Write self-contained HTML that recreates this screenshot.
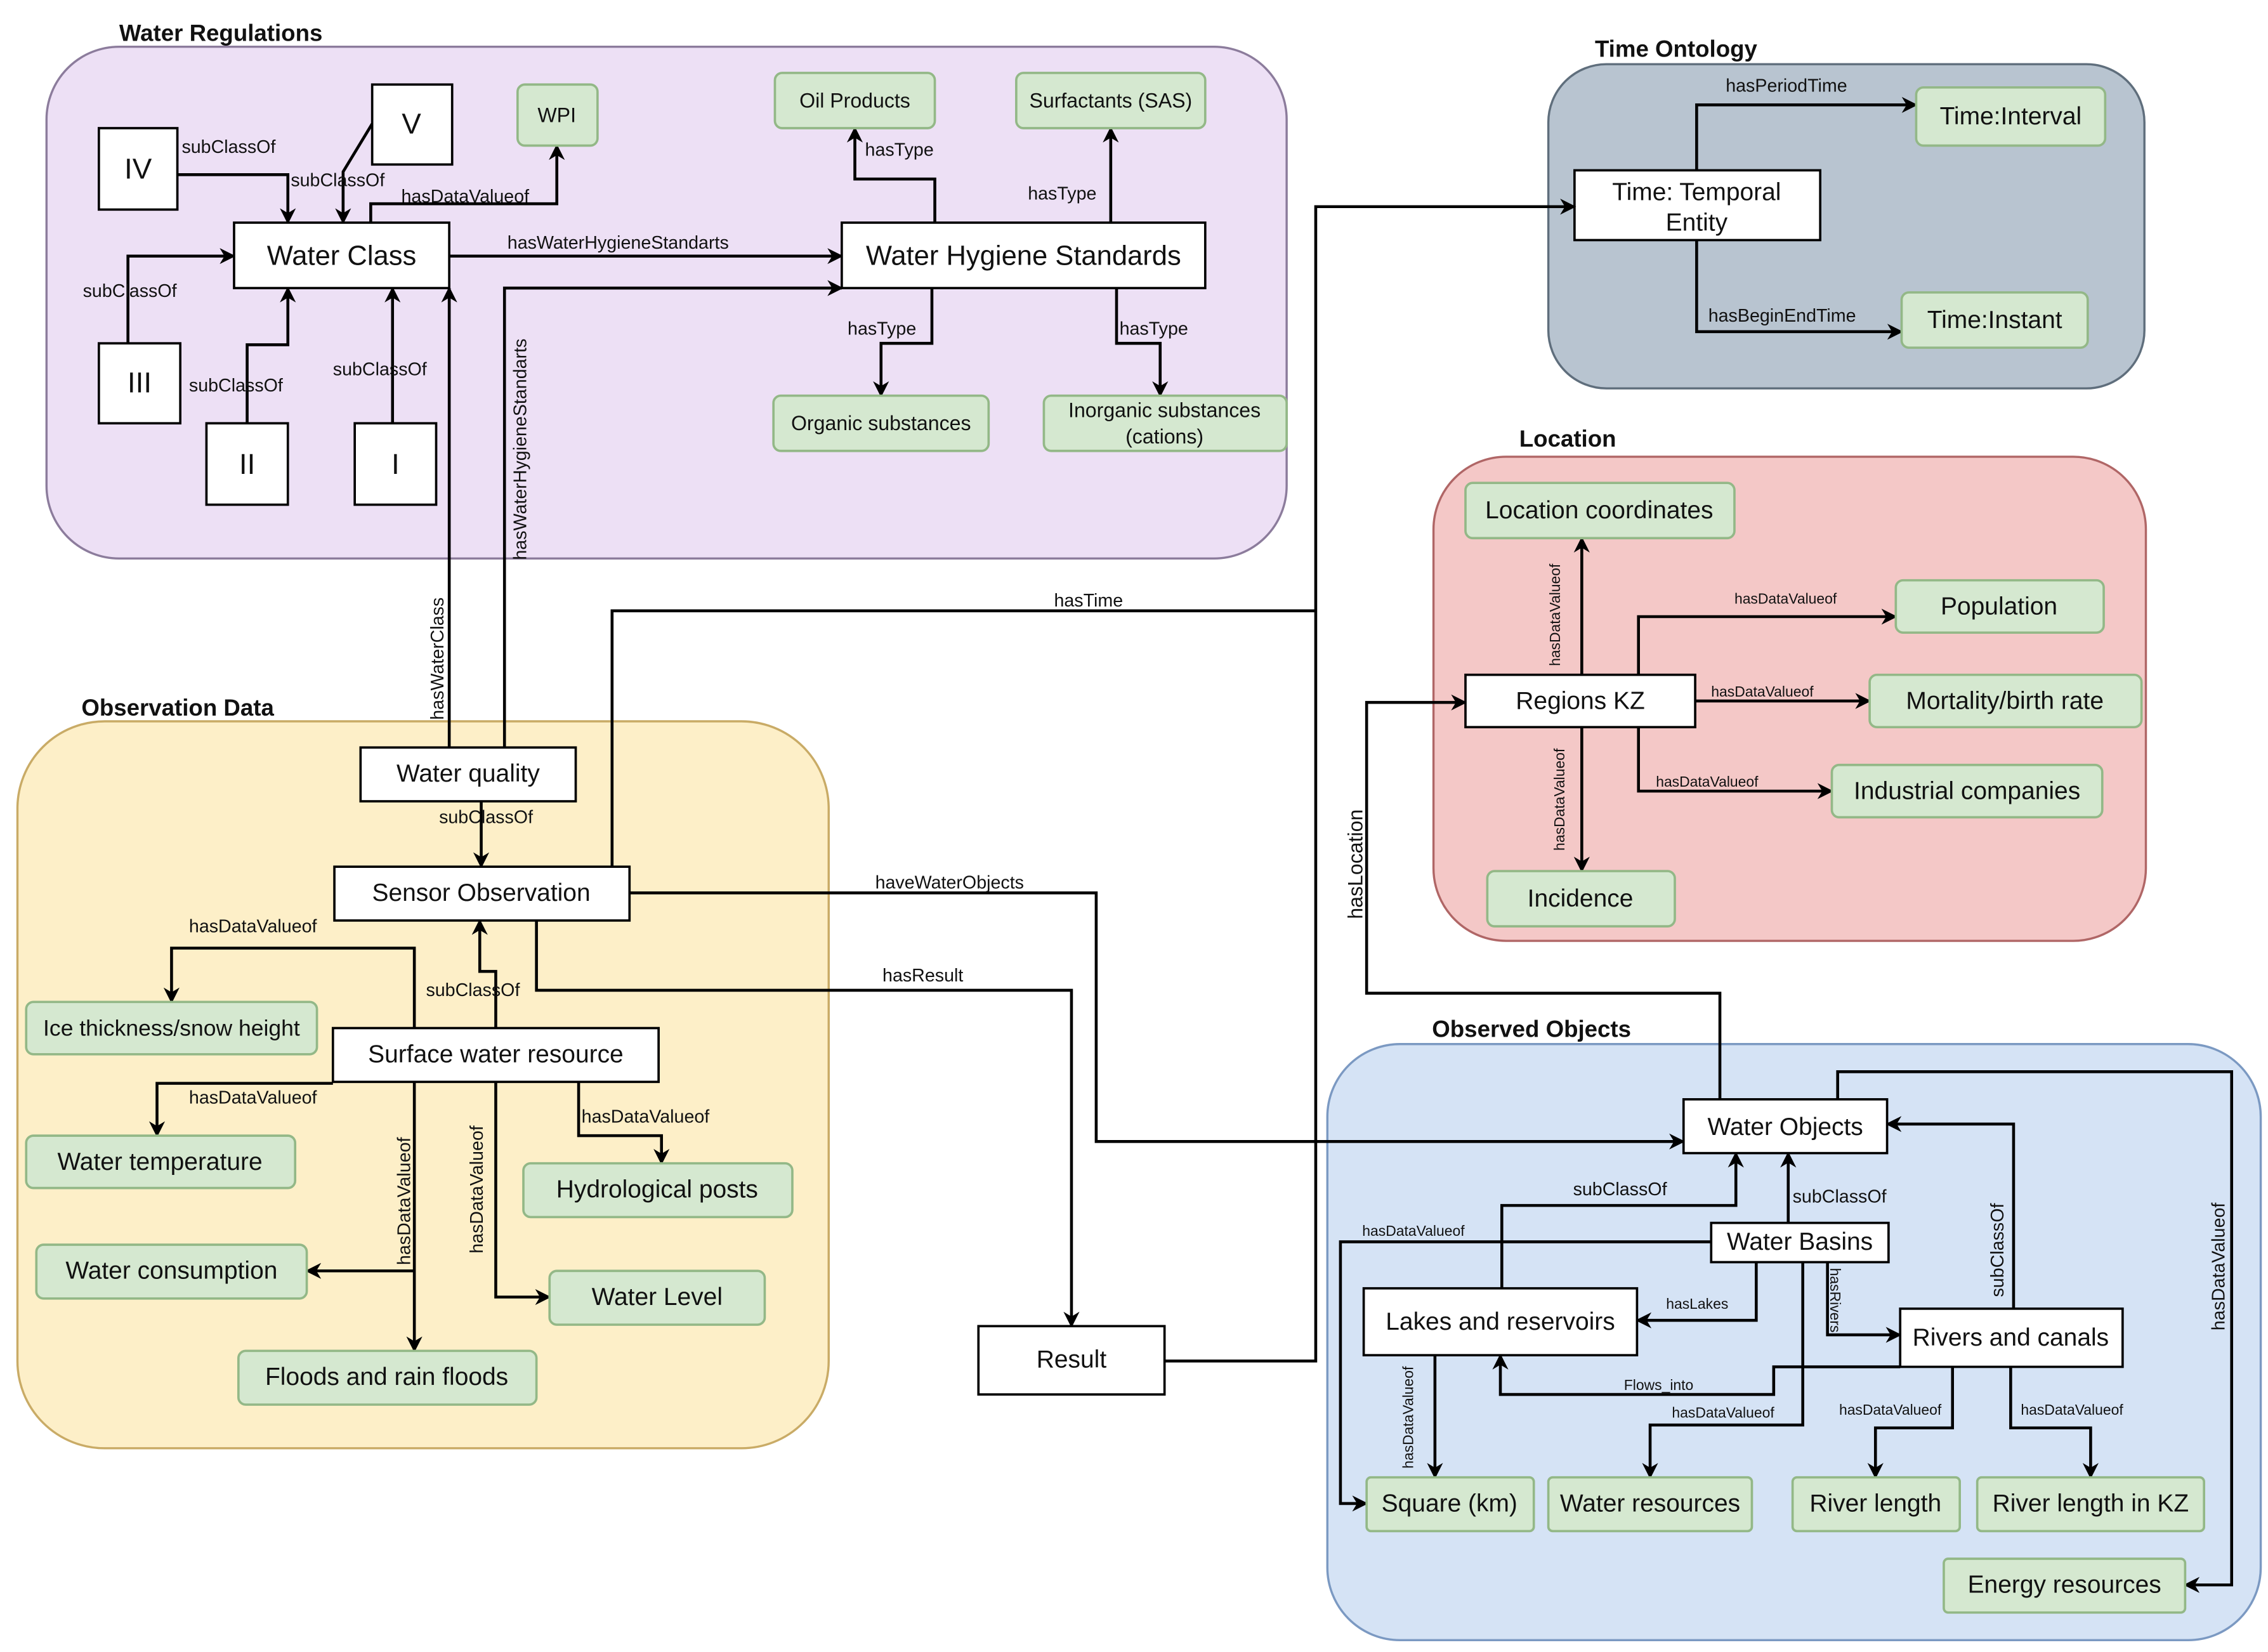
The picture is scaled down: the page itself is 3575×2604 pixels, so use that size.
<!DOCTYPE html>
<html><head><meta charset="utf-8"><style>
html,body{margin:0;padding:0;background:#fff;}
svg{display:block;}
text{font-family:"Liberation Sans",Arial,sans-serif;fill:#111;}
.n{fill:#fff;stroke:#000;stroke-width:1.6;}
.g{fill:#d5e8d0;stroke:#93b887;stroke-width:1.6;}
.t{font-size:17px;text-anchor:middle;dominant-baseline:central;}
.ts{font-size:14px;text-anchor:middle;dominant-baseline:central;}
.l{font-size:12.5px;}
.ls{font-size:10px;}
.h{font-size:16px;font-weight:bold;}
.c{fill:none;stroke:#000;stroke-width:2;marker-end:url(#a);}
</style></head><body>
<svg width="3575" height="2604" viewBox="0 0 1560 1136" xmlns="http://www.w3.org/2000/svg">
<defs><marker id="a" viewBox="0 0 10 10" refX="9" refY="5" markerWidth="5.5" markerHeight="5.5" orient="auto" markerUnits="strokeWidth"><path d="M0,0 L10,5 L0,10 L3,5 Z" fill="#000"/></marker></defs>

<!-- containers -->
<rect x="32" y="32" width="853" height="352" rx="50" fill="#ede0f5" stroke="#8c7c9c" stroke-width="1.5"/>
<text x="82" y="28" class="h">Water Regulations</text>
<rect x="1065" y="44" width="410" height="223" rx="40" fill="#b8c4d0" stroke="#5f6e7c" stroke-width="1.5"/>
<text x="1097" y="39" class="h">Time Ontology</text>
<rect x="986" y="314" width="490" height="333" rx="50" fill="#f4c8c7" stroke="#b06666" stroke-width="1.5"/>
<text x="1045" y="307" class="h">Location</text>
<rect x="12" y="496" width="558" height="500" rx="60" fill="#fdefc8" stroke="#c9ab66" stroke-width="1.5"/>
<text x="56" y="492" class="h">Observation Data</text>
<rect x="913" y="718" width="642" height="410" rx="50" fill="#d5e3f5" stroke="#7b99c2" stroke-width="1.5"/>
<text x="985" y="713" class="h">Observed Objects</text>

<!-- Water regulations connectors -->
<path class="c" d="M122,120 H198 V153"/>
<text x="125" y="105" class="l">subClassOf</text>
<path class="c" d="M256,85 L236,118 V153"/>
<text x="200" y="128" class="l">subClassOf</text>
<path class="c" d="M255,153 V140 H383 V100"/>
<text x="276" y="139" class="l">hasDataValueof</text>
<path class="c" d="M88,236 V176 H161"/>
<text x="57" y="204" class="l">subClassOf</text>
<path class="c" d="M170,291 V237 H198 V198"/>
<text x="130" y="269" class="l">subClassOf</text>
<path class="c" d="M270,291 V198"/>
<text x="229" y="258" class="l">subClassOf</text>
<path class="c" d="M309,176 H579"/>
<text x="349" y="171" class="l">hasWaterHygieneStandarts</text>
<path class="c" d="M643,153 V123 H588 V88"/>
<text x="595" y="107" class="l">hasType</text>
<path class="c" d="M764,153 V88"/>
<text x="707" y="137" class="l">hasType</text>
<path class="c" d="M641,198 V236 H606 V272"/>
<text x="583" y="230" class="l">hasType</text>
<path class="c" d="M768,198 V236 H798 V272"/>
<text x="770" y="230" class="l">hasType</text>
<path class="c" d="M309,515 V198"/>
<text transform="translate(305,495) rotate(-90)" class="l">hasWaterClass</text>
<path class="c" d="M347,515 V198 H579"/>
<text transform="translate(362,385) rotate(-90)" class="l">hasWaterHygieneStandarts</text>

<!-- WR nodes -->
<rect x="68" y="88" width="54" height="56" class="n"/><text x="95" y="116" class="t" style="font-size:20px">IV</text>
<rect x="256" y="58" width="55" height="55" class="n"/><text x="283" y="85" class="t" style="font-size:20px">V</text>
<rect x="68" y="236" width="56" height="55" class="n"/><text x="96" y="263" class="t" style="font-size:20px">III</text>
<rect x="142" y="291" width="56" height="56" class="n"/><text x="170" y="319" class="t" style="font-size:20px">II</text>
<rect x="244" y="291" width="56" height="56" class="n"/><text x="272" y="319" class="t" style="font-size:20px">I</text>
<rect x="161" y="153" width="148" height="45" class="n"/><text x="235" y="176" class="t" style="font-size:19px">Water Class</text>
<rect x="579" y="153" width="250" height="45" class="n"/><text x="704" y="176" class="t" style="font-size:19px">Water Hygiene Standards</text>
<rect x="356" y="58" width="55" height="42" rx="5" class="g"/><text x="383" y="79" class="ts">WPI</text>
<rect x="533" y="50" width="110" height="38" rx="5" class="g"/><text x="588" y="69" class="ts">Oil Products</text>
<rect x="699" y="50" width="130" height="38" rx="5" class="g"/><text x="764" y="69" class="ts">Surfactants (SAS)</text>
<rect x="532" y="272" width="148" height="38" rx="5" class="g"/><text x="606" y="291" class="ts">Organic substances</text>
<rect x="718" y="272" width="167" height="38" rx="5" class="g"/><text x="801" y="282" class="ts">Inorganic substances</text><text x="801" y="300" class="ts">(cations)</text>

<!-- Time ontology -->
<path class="c" d="M1167,117 V72 H1318"/>
<text x="1187" y="63" class="l">hasPeriodTime</text>
<path class="c" d="M1167,165 V228 H1308"/>
<text x="1175" y="221" class="l">hasBeginEndTime</text>
<rect x="1083" y="117" width="169" height="48" class="n"/><text x="1167" y="132" class="t">Time: Temporal</text><text x="1167" y="153" class="t">Entity</text>
<rect x="1318" y="60" width="130" height="40" rx="5" class="g"/><text x="1383" y="80" class="t">Time:Interval</text>
<rect x="1308" y="201" width="128" height="38" rx="5" class="g"/><text x="1372" y="220" class="t">Time:Instant</text>

<!-- cross connectors -->
<path class="c" d="M801,936 H905 V142 H1083"/>
<path fill="none" stroke="#000" stroke-width="2" d="M421,596 V420 H905"/>
<text x="725" y="417" class="l">hasTime</text>
<path class="c" d="M433,614 H754 V785 H1158"/>
<text x="602" y="611" class="l">haveWaterObjects</text>
<path class="c" d="M369,633 V681 H737 V912"/>
<text x="607" y="675" class="l">hasResult</text>
<path class="c" d="M1183,756 V683 H940 V483 H1008"/>
<text transform="translate(937,632) rotate(-90)" class="l" style="font-size:14px">hasLocation</text>

<!-- Location -->
<path class="c" d="M1088,464 V370"/>
<text transform="translate(1073,458) rotate(-90)" class="ls">hasDataValueof</text>
<path class="c" d="M1127,464 V424 H1304"/>
<text x="1193" y="415" class="ls">hasDataValueof</text>
<path class="c" d="M1166,482 H1286"/>
<text x="1177" y="479" class="ls">hasDataValueof</text>
<path class="c" d="M1127,500 V544 H1260"/>
<text x="1139" y="541" class="ls">hasDataValueof</text>
<path class="c" d="M1088,500 V599"/>
<text transform="translate(1076,585) rotate(-90)" class="ls">hasDataValueof</text>
<rect x="1008" y="332" width="185" height="38" rx="5" class="g"/><text x="1100" y="351" class="t">Location coordinates</text>
<rect x="1304" y="399" width="143" height="36" rx="5" class="g"/><text x="1375" y="417" class="t">Population</text>
<rect x="1008" y="464" width="158" height="36" class="n"/><text x="1087" y="482" class="t">Regions KZ</text>
<rect x="1286" y="464" width="187" height="36" rx="5" class="g"/><text x="1379" y="482" class="t">Mortality/birth rate</text>
<rect x="1260" y="526" width="186" height="36" rx="5" class="g"/><text x="1353" y="544" class="t">Industrial companies</text>
<rect x="1023" y="599" width="129" height="38" rx="5" class="g"/><text x="1087" y="618" class="t">Incidence</text>

<!-- Observation data -->
<path class="c" d="M331,551 V596"/>
<text x="302" y="566" class="l">subClassOf</text>
<path class="c" d="M341,707 V668 H330 V633"/>
<text x="293" y="685" class="l">subClassOf</text>
<path class="c" d="M285,707 V652 H118 V689"/>
<text x="130" y="641" class="l">hasDataValueof</text>
<path class="c" d="M229,745 H108 V781"/>
<text x="130" y="759" class="l">hasDataValueof</text>
<path class="c" d="M398,744 V781 H455 V800"/>
<text x="400" y="772" class="l">hasDataValueof</text>
<path class="c" d="M285,744 V929"/>
<path class="c" d="M285,874 H211"/>
<text transform="translate(282,870) rotate(-90)" class="l">hasDataValueof</text>
<path class="c" d="M341,744 V892 H378"/>
<text transform="translate(332,862) rotate(-90)" class="l">hasDataValueof</text>
<rect x="248" y="514" width="148" height="37" class="n"/><text x="322" y="532" class="t">Water quality</text>
<rect x="230" y="596" width="203" height="37" class="n"/><text x="331" y="614" class="t">Sensor Observation</text>
<rect x="18" y="689" width="200" height="36" rx="5" class="g"/><text x="118" y="707" class="t" style="font-size:15.5px">Ice thickness/snow height</text>
<rect x="229" y="707" width="224" height="37" class="n"/><text x="341" y="725" class="t">Surface water resource</text>
<rect x="18" y="781" width="185" height="36" rx="5" class="g"/><text x="110" y="799" class="t">Water temperature</text>
<rect x="360" y="800" width="185" height="37" rx="5" class="g"/><text x="452" y="818" class="t">Hydrological posts</text>
<rect x="25" y="856" width="186" height="37" rx="5" class="g"/><text x="118" y="874" class="t">Water consumption</text>
<rect x="378" y="874" width="148" height="37" rx="5" class="g"/><text x="452" y="892" class="t">Water Level</text>
<rect x="164" y="929" width="205" height="37" rx="5" class="g"/><text x="266" y="947" class="t">Floods and rain floods</text>
<rect x="673" y="912" width="128" height="47" class="n"/><text x="737" y="935" class="t">Result</text>

<!-- Observed objects -->
<path class="c" d="M1033,886 V829 H1194 V793"/>
<text x="1082" y="822" class="l">subClassOf</text>
<path class="c" d="M1230,841 V793"/>
<text x="1233" y="827" class="l">subClassOf</text>
<path class="c" d="M1385,900 V773 H1298"/>
<text transform="translate(1378,892) rotate(-90)" class="l">subClassOf</text>
<path class="c" d="M1264,756 V737 H1535 V1090 H1503"/>
<text transform="translate(1530,915) rotate(-90)" class="l">hasDataValueof</text>
<path class="c" d="M1177,854 H922 V1034 H940"/>
<text x="937" y="850" class="ls">hasDataValueof</text>
<path class="c" d="M1208,868 V908 H1126"/>
<text x="1146" y="900" class="ls">hasLakes</text>
<path class="c" d="M1257,868 V918 H1307"/>
<text transform="translate(1259,872) rotate(90)" class="ls">hasRivers</text>
<path class="c" d="M1240,868 V980 H1135 V1016"/>
<text x="1150" y="975" class="ls">hasDataValueof</text>
<path class="c" d="M1307,940 H1220 V959 H1032 V932"/>
<text x="1117" y="956" class="ls">Flows_into</text>
<path class="c" d="M987,932 V1016"/>
<text transform="translate(972,1010) rotate(-90)" class="ls">hasDataValueof</text>
<path class="c" d="M1343,940 V982 H1290 V1016"/>
<text x="1265" y="973" class="ls">hasDataValueof</text>
<path class="c" d="M1383,940 V982 H1438 V1016"/>
<text x="1390" y="973" class="ls">hasDataValueof</text>
<rect x="1158" y="756" width="140" height="37" class="n"/><text x="1228" y="775" class="t">Water Objects</text>
<rect x="1177" y="841" width="122" height="27" class="n"/><text x="1238" y="854" class="t">Water Basins</text>
<rect x="938" y="886" width="188" height="46" class="n"/><text x="1032" y="909" class="t">Lakes and reservoirs</text>
<rect x="1307" y="900" width="153" height="40" class="n"/><text x="1383" y="920" class="t">Rivers and canals</text>
<rect x="940" y="1016" width="115" height="37" rx="3" class="g"/><text x="997" y="1034" class="t">Square (km)</text>
<rect x="1065" y="1016" width="140" height="37" rx="3" class="g"/><text x="1135" y="1034" class="t">Water resources</text>
<rect x="1233" y="1016" width="115" height="37" rx="3" class="g"/><text x="1290" y="1034" class="t">River length</text>
<rect x="1360" y="1016" width="156" height="37" rx="3" class="g"/><text x="1438" y="1034" class="t">River length in KZ</text>
<rect x="1337" y="1072" width="166" height="37" rx="3" class="g"/><text x="1420" y="1090" class="t">Energy resources</text>
</svg>
</body></html>
